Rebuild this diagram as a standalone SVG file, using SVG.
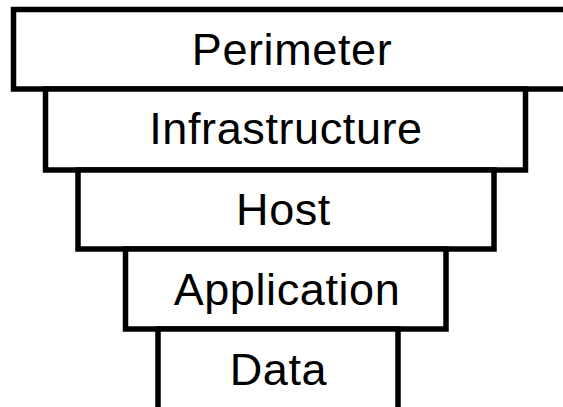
<svg xmlns="http://www.w3.org/2000/svg" width="563" height="407" viewBox="0 0 563 407">
  <style>
    .layer rect { fill: #ffffff; stroke: #000000; stroke-width: 5.5; }
    .layer text { font-family: "Liberation Sans", Arial, sans-serif; font-size: 45px; letter-spacing: 0.6px; fill: #000000; text-anchor: middle; }
  </style>
  <rect width="563" height="407" fill="#ffffff"/>
  <!-- stacked defence-in-depth layers, outermost on top -->
  <g id="perimeter" class="layer">
    <rect x="13.5" y="9.5" width="555" height="79.5"/>
    <text x="292" y="65">Perimeter</text>
  </g>
  <g id="infrastructure" class="layer">
    <rect x="45.5" y="89" width="480" height="81"/>
    <text x="286" y="143.5">Infrastructure</text>
  </g>
  <g id="host" class="layer">
    <rect x="78" y="170" width="416" height="79"/>
    <text x="283.5" y="225">Host</text>
  </g>
  <g id="application" class="layer">
    <rect x="125.5" y="249" width="320.5" height="80"/>
    <text x="287" y="305">Application</text>
  </g>
  <g id="data" class="layer">
    <rect x="158" y="329" width="240" height="85"/>
    <text x="278.5" y="385">Data</text>
  </g>
  <g id="connectors"/>
</svg>
